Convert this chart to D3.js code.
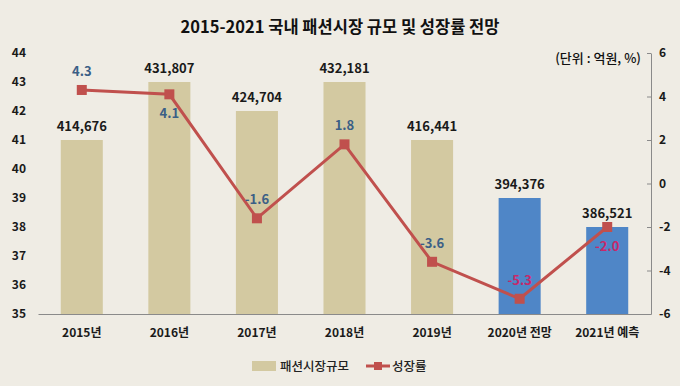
<!DOCTYPE html>
<html>
<head>
<meta charset="utf-8">
<script src="https://cdn.jsdelivr.net/npm/d3@7"></script>
<style>
  body { margin: 0; background: #efece4; }
  svg { display: block; font-family: "Noto Sans CJK KR", "Noto Sans", sans-serif; }
</style>
</head>
<body>
<svg></svg>
<script>
const width = 680;
const height = 386;

// data
const years = ['2015년', '2016년', '2017년', '2018년', '2019년', '2020년 전망', '2021년 예측'];
const sizeAxisValues = [41, 43, 42, 43, 41, 39, 38];   // bar heights on the left axis
const sizeLabels = ['414,676', '431,807', '424,704', '432,181', '416,441', '394,376', '386,521'];
const growth = [4.3, 4.1, -1.6, 1.8, -3.6, -5.3, -2.0];
const isForecast = [false, false, false, false, false, true, true];
const growthLabelBelow = [false, true, false, false, false, false, true];
const leftTicks = d3.range(35, 45);
const rightTicks = [-6, -4, -2, 0, 2, 4, 6];

const margin = {top: 53, right: 29, bottom: 72, left: 38};
const svg = d3.select('svg').attr('width', width).attr('height', height);

svg.append('rect').attr('width', width).attr('height', height).attr('fill', '#efece4');

const x = d3.scaleBand()
    .domain(years)
    .range([margin.left, width - margin.right])
    .paddingInner(0.52)
    .paddingOuter(0.26);
const yLeft = d3.scaleLinear().domain([35, 44]).range([height - margin.bottom, margin.top]);
const yRight = d3.scaleLinear().domain([-6, 6]).range([height - margin.bottom, margin.top]);

// title
svg.append('text')
    .attr('x', width / 2).attr('y', 33)
    .attr('text-anchor', 'middle')
    .style('font-size', '16.5px').style('font-weight', 'bold').style('fill', '#111')
    .text('2015-2021 국내 패션시장 규모 및 성장률 전망');

svg.append('text')
    .attr('x', 641).attr('y', 63)
    .attr('text-anchor', 'end')
    .style('font-size', '13px').style('font-weight', '500').style('fill', '#111')
    .text('(단위 : 억원, %)');

// bars
svg.append('g').selectAll('rect')
    .data(years)
    .join('rect')
    .attr('x', d => x(d))
    .attr('width', x.bandwidth())
    .attr('y', (d, i) => yLeft(sizeAxisValues[i]))
    .attr('height', (d, i) => yLeft(35) - yLeft(sizeAxisValues[i]))
    .attr('fill', (d, i) => isForecast[i] ? '#4f86c7' : '#d3c9a1');

svg.append('g').selectAll('text')
    .data(years)
    .join('text')
    .attr('x', d => x(d) + x.bandwidth() / 2)
    .attr('y', (d, i) => yLeft(sizeAxisValues[i]) - 9)
    .attr('text-anchor', 'middle')
    .style('font-size', '13px').style('font-weight', 'bold').style('fill', '#1a1a1a')
    .text((d, i) => sizeLabels[i]);

// left axis (labels only)
const leftAxis = svg.append('g')
    .attr('transform', `translate(${margin.left},0)`)
    .call(d3.axisLeft(yLeft).tickValues(leftTicks).tickSize(0).tickPadding(12));
leftAxis.select('.domain').remove();
leftAxis.selectAll('text')
    .style('font-size', '12px').style('font-weight', 'bold').style('fill', '#1a1a1a')
    .style('font-family', '"Noto Sans CJK KR", sans-serif');

// right axis
const rightAxis = svg.append('g')
    .attr('transform', `translate(${width - margin.right},0)`)
    .call(d3.axisRight(yRight).tickValues(rightTicks).tickFormat(d => String(d))
        .tickSizeInner(-4).tickSizeOuter(0).tickPadding(8));
rightAxis.select('.domain').attr('stroke', '#8a8a8a');
rightAxis.selectAll('.tick line').attr('stroke', '#8a8a8a');
rightAxis.selectAll('text')
    .style('font-size', '12px').style('font-weight', 'bold').style('fill', '#1a1a1a')
    .style('font-family', '"Noto Sans CJK KR", sans-serif');

// baseline + category labels
const bottomAxis = svg.append('g')
    .attr('transform', `translate(0,${height - margin.bottom})`)
    .call(d3.axisBottom(x).tickSize(0).tickPadding(14));
bottomAxis.select('.domain').attr('stroke', '#8a8a8a');
bottomAxis.selectAll('text')
    .style('font-size', '12px').style('font-weight', 'bold').style('fill', '#1a1a1a')
    .style('font-family', '"Noto Sans CJK KR", sans-serif');

// growth line
const cx = d => x(d) + x.bandwidth() / 2;
const line = d3.line()
    .x((d, i) => cx(years[i]))
    .y(d => yRight(d));
svg.append('path')
    .datum(growth)
    .attr('d', line)
    .attr('fill', 'none')
    .attr('stroke', '#c0504d')
    .attr('stroke-width', 3);

svg.append('g').selectAll('rect')
    .data(growth)
    .join('rect')
    .attr('x', (d, i) => cx(years[i]) - 5)
    .attr('y', d => yRight(d) - 5)
    .attr('width', 10).attr('height', 10)
    .attr('fill', '#c0504d');

svg.append('g').selectAll('text')
    .data(growth)
    .join('text')
    .attr('x', (d, i) => cx(years[i]))
    .attr('y', (d, i) => growthLabelBelow[i] ? yRight(d) + 24 : yRight(d) - 14)
    .attr('text-anchor', 'middle')
    .style('font-size', '13px').style('font-weight', 'bold')
    .style('fill', (d, i) => isForecast[i] ? '#c8286a' : '#3b5f86')
    .text(d => d.toFixed(1));

// legend
const legend = svg.append('g').attr('transform', 'translate(0,366)');
legend.append('rect').attr('x', 252).attr('y', -5).attr('width', 24).attr('height', 10).attr('fill', '#d3c9a1');
legend.append('text').attr('x', 280).attr('y', 5)
    .style('font-size', '12.5px').style('font-weight', '500').style('fill', '#222').text('패션시장규모');
legend.append('line').attr('x1', 366).attr('x2', 390).attr('y1', 0).attr('y2', 0)
    .attr('stroke', '#c0504d').attr('stroke-width', 3);
legend.append('rect').attr('x', 374).attr('y', -4).attr('width', 8).attr('height', 8).attr('fill', '#c0504d');
legend.append('text').attr('x', 392).attr('y', 5)
    .style('font-size', '12.5px').style('font-weight', '500').style('fill', '#222').text('성장률');
</script>
</body>
</html>
